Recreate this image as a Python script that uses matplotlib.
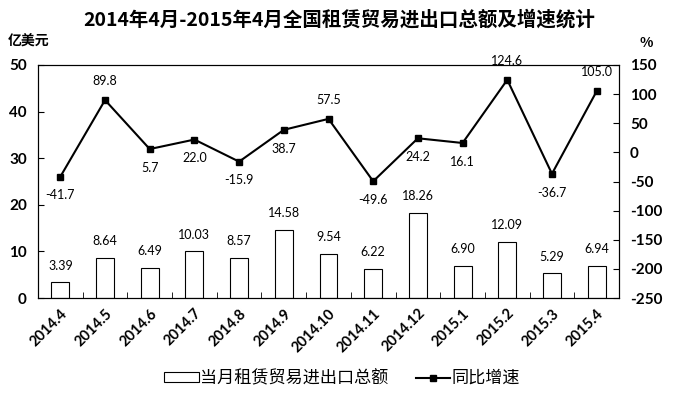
import matplotlib
matplotlib.use('Agg')
import matplotlib.pyplot as plt
import numpy as np

plt.rcParams['font.family'] = ['Noto Sans CJK SC', 'DejaVu Sans']
plt.rcParams['axes.unicode_minus'] = False

months = ['2014.4', '2014.5', '2014.6', '2014.7', '2014.8', '2014.9', '2014.10',
          '2014.11', '2014.12', '2015.1', '2015.2', '2015.3', '2015.4']
amount = [3.39, 8.64, 6.49, 10.03, 8.57, 14.58, 9.54, 6.22, 18.26, 6.90, 12.09, 5.29, 6.94]
growth = [-41.7, 89.8, 5.7, 22.0, -15.9, 38.7, 57.5, -49.6, 24.2, 16.1, 124.6, -36.7, 105.0]
# label placement for the growth line: 1 = above, -1 = below
growth_pos = [-1, 1, -1, -1, -1, -1, 1, -1, -1, -1, 1, -1, 1]

num_font = 'Lato'

fig = plt.figure(figsize=(6.78, 3.98), dpi=100)
ax = fig.add_axes([38 / 678, 1 - 298 / 398, 581 / 678, 233 / 398])
ax2 = ax.twinx()

x = np.arange(len(months))
ax.bar(x, amount, width=0.4, color='white', edgecolor='black', linewidth=0.8,
       label='当月租赁贸易进出口总额', zorder=2)
for xi, v in zip(x, amount):
    ax.annotate(f'{v:.2f}', (xi, v), xytext=(0, 12), textcoords='offset points',
                ha='center', va='center', fontsize=9, family=num_font)

ax2.plot(x, growth, color='black', linewidth=1.5, marker='s', markersize=4,
         label='同比增速', zorder=3)
for xi, v, p in zip(x, growth, growth_pos):
    ax2.annotate(f'{v:.1f}', (xi, v), xytext=(0, 13.5 * p), textcoords='offset points',
                 ha='center', va='center', fontsize=9, family=num_font)

ax.set_xlim(-0.5, len(months) - 0.5)
ax.set_ylim(0, 50)
ax.set_yticks(range(0, 51, 10))
ax2.set_ylim(-250, 150)
ax2.set_yticks(range(-250, 151, 50))

ax.set_xticks(x)
ax.set_xticklabels(months, rotation=45, ha='right', rotation_mode='anchor',
                   fontsize=10.5, fontweight='bold', family=num_font)
ax.tick_params(axis='x', length=0, pad=6)
ax.set_xticks(np.arange(-0.5, len(months), 1), minor=True)
ax.tick_params(axis='x', which='minor', direction='in', length=4)
ax.tick_params(axis='y', direction='in', length=4, labelsize=11, pad=8)
ax2.tick_params(axis='y', direction='in', length=4, labelsize=11, pad=8)
for lab in ax.get_yticklabels() + ax2.get_yticklabels():
    lab.set_fontweight('bold')
    lab.set_family(num_font)

for a in (ax, ax2):
    for s in a.spines.values():
        s.set_linewidth(0.8)

fig.text(0.5, 1 - 20 / 398, '2014年4月-2015年4月全国租赁贸易进出口总额及增速统计', ha='center',
         va='center', fontsize=14, fontweight='bold')
fig.text(8 / 678, 1 - 42 / 398, '亿美元', ha='left', va='center', fontsize=10,
         fontweight='bold')
fig.text(640 / 678, 1 - 43 / 398, '%', ha='left', va='center', fontsize=10,
         fontweight='bold')

h1, l1 = ax.get_legend_handles_labels()
h2, l2 = ax2.get_legend_handles_labels()
fig.legend(h1 + h2, l1 + l2, loc='center', bbox_to_anchor=(0.505, 1 - 378 / 398),
           ncol=2, frameon=False, fontsize=12.3, handlelength=2.0, handleheight=0.5,
           columnspacing=1.6, handletextpad=0.1)

fig.savefig('out.png', dpi=100)
